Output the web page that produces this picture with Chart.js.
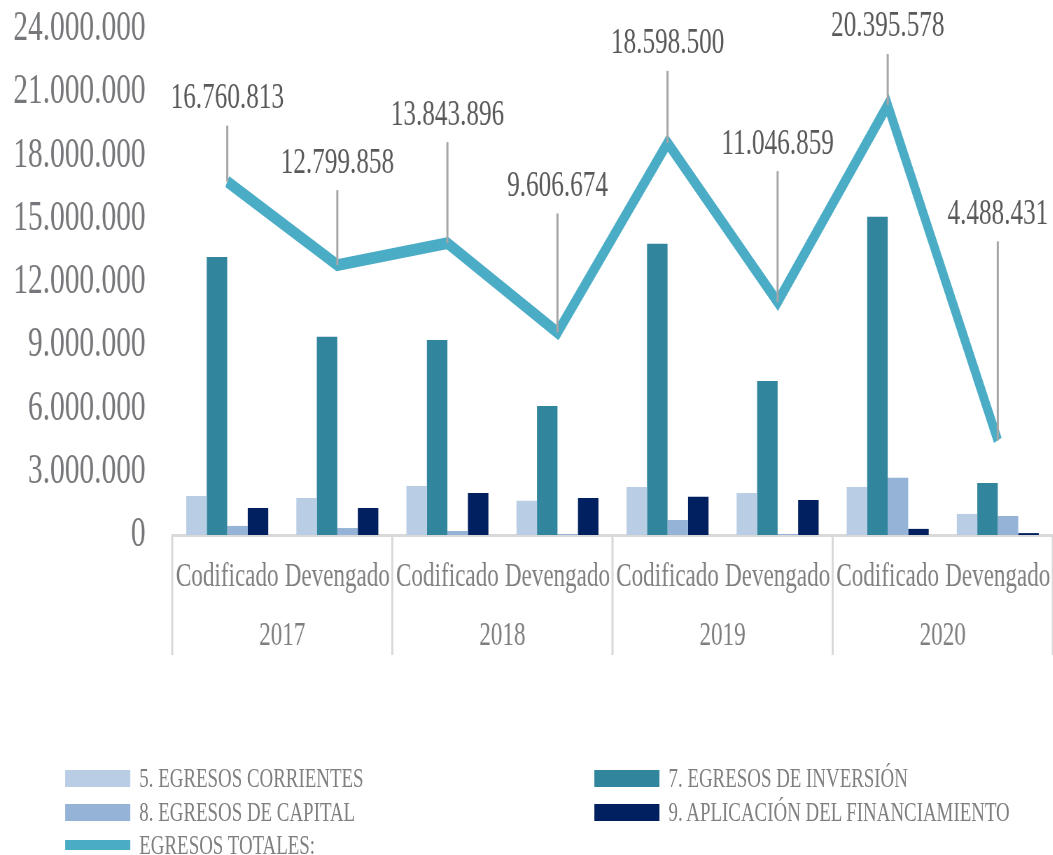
<!DOCTYPE html>
<html>
<head>
<meta charset="utf-8">
<script src="https://cdn.jsdelivr.net/npm/chart.js@4/dist/chart.umd.min.js"></script>
<style>
  html, body { margin: 0; padding: 0; background: #fff; overflow: hidden; }
  #wrap { position: relative; width: 1504px; height: 855px; transform: scaleX(0.7); transform-origin: 0 0; }
  #c { display: block; }
  #legend { position: absolute; left: 0; top: 0; width: 1504px; height: 855px; font-family: "Liberation Serif", serif; font-size: 27px; color: #7f7f7f; }
  .item { position: absolute; display: flex; align-items: center; white-space: nowrap; }
  .sw { display: inline-block; width: 93px; margin-right: 13px; }
</style>
</head>
<body>
<div id="wrap">
  <canvas id="c" width="1504" height="660"></canvas>
  <div id="legend"></div>
</div>
<script>
// ---- data ----
const categories = ['Codificado', 'Devengado', 'Codificado', 'Devengado', 'Codificado', 'Devengado', 'Codificado', 'Devengado'];
const years = ['2017', '2018', '2019', '2020'];
const seriesNames = ['5. EGRESOS CORRIENTES', '7. EGRESOS DE INVERSIÓN', '8. EGRESOS DE CAPITAL', '9. APLICACIÓN DEL FINANCIAMIENTO', 'EGRESOS TOTALES:'];
const corrientes = [1850000, 1760000, 2330000, 1620000, 2280000, 1990000, 2280000, 1000000];
const inversion = [13190000, 9400000, 9250000, 6120000, 13810000, 7310000, 15090000, 2470000];
const capital = [430000, 330000, 190000, 50000, 710000, 50000, 2710000, 900000];
const financiamiento = [1280000, 1280000, 1990000, 1760000, 1810000, 1660000, 290000, 90000];
const totales = [16760813, 12799858, 13843896, 9606674, 18598500, 11046859, 20395578, 4488431];
const yTickValues = [0, 3000000, 6000000, 9000000, 12000000, 15000000, 18000000, 21000000, 24000000];

// ---- label placement (style config) ----
const labelRisePx = [83, 102, 128, 146, 99, 158, 78, 226];

const FONT = '"Liberation Serif", "Times New Roman", serif';
function fmt(n) { return String(Math.round(n)).replace(/\B(?=(\d{3})+(?!\d))/g, '.'); }

const separators = {
  id: 'separators',
  afterDraw(chart) {
    const x = chart.scales.x, x2 = chart.scales.x2;
    const step = x.getPixelForValue(1) - x.getPixelForValue(0);
    const ctx = chart.ctx;
    ctx.save();
    ctx.strokeStyle = '#d9d9d9';
    ctx.lineWidth = 3;
    for (let i = 0; i <= years.length; i++) {
      const px = x.getPixelForValue(0) - step / 2 + i * 2 * step;
      ctx.beginPath();
      ctx.moveTo(px, x.top);
      ctx.lineTo(px, x2.bottom);
      ctx.stroke();
    }
    ctx.restore();
  }
};

const totalLabels = {
  id: 'totalLabels',
  afterDatasetsDraw(chart) {
    const meta = chart.getDatasetMeta(0);
    const ctx = chart.ctx;
    ctx.save();
    meta.data.forEach((pt, i) => {
      const ly = pt.y - labelRisePx[i];
      ctx.strokeStyle = '#a6a6a6';
      ctx.lineWidth = 3;
      ctx.beginPath();
      ctx.moveTo(pt.x, ly + 27);
      ctx.lineTo(pt.x, pt.y);
      ctx.stroke();
      ctx.fillStyle = '#595959';
      ctx.font = '36px ' + FONT;
      ctx.textAlign = 'center';
      ctx.textBaseline = 'middle';
      ctx.fillText(fmt(totales[i]), pt.x, ly);
    });
    ctx.restore();
  }
};

const colors = ['#b9cde5', '#31859c', '#95b3d7', '#002060', '#4bacc6'];

const chart = new Chart(document.getElementById('c'), {
  data: {
    labels: categories,
    datasets: [
      { type: 'line', label: seriesNames[4], data: totales, borderColor: colors[4], backgroundColor: colors[4], borderWidth: 12, pointRadius: 0, tension: 0, fill: false, order: 0, borderJoinStyle: 'miter' },
    ].concat([corrientes, inversion, capital, financiamiento].map((d, i) => ({
      type: 'bar', label: seriesNames[i], data: d, backgroundColor: colors[i], borderWidth: 0,
      categoryPercentage: 0.745, barPercentage: 1.0, order: 1
    })))
  },
  options: {
    responsive: false,
    animation: false,
    devicePixelRatio: 1,
    layout: { padding: { top: 29, left: 0, right: 0, bottom: 5 } },
    plugins: { legend: { display: false }, tooltip: { enabled: false } },
    scales: {
      y: {
        min: 0, max: 24000000,
        afterBuildTicks: (s) => { s.ticks = yTickValues.map(v => ({ value: v })); },
        afterFit: (s) => { s.width = 246; s.paddingTop = 0; s.paddingBottom = 0; },
        grid: { display: false, drawTicks: false },
        border: { display: false },
        ticks: { padding: 38, color: '#76777a', font: { family: FONT, size: 42 }, callback: (v) => fmt(v) }
      },
      x: {
        type: 'category',
        position: 'bottom',
        offset: true,
        afterFit: (s) => { s.height = 58; s.paddingLeft = 0; s.paddingRight = 0; },
        grid: { display: false, drawTicks: false },
        border: { display: true, color: '#d9d9d9', width: 3 },
        ticks: { padding: 23, color: '#7f7f7f', autoSkip: false, maxRotation: 0, font: { family: FONT, size: 33 } }
      },
      x2: {
        type: 'category',
        position: 'bottom',
        labels: years,
        offset: true,
        afterFit: (s) => { s.height = 62; s.paddingLeft = 0; s.paddingRight = 0; },
        grid: { display: false, drawTicks: false },
        border: { display: false },
        ticks: { padding: 24, color: '#7f7f7f', autoSkip: false, maxRotation: 0, font: { family: FONT, size: 33 } }
      }
    }
  },
  plugins: [separators, totalLabels]
});

// ---- legend (HTML, built from datasets) ----
const legendSpots = [
  { idx: 1, left: 93, cy: 778 }, { idx: 2, left: 849, cy: 778 },
  { idx: 3, left: 93, cy: 812 }, { idx: 4, left: 849, cy: 812 },
  { idx: 0, left: 93, cy: 845 }
];
const legend = document.getElementById('legend');
legendSpots.forEach(s => {
  const ds = chart.data.datasets[s.idx];
  const item = document.createElement('div');
  item.className = 'item';
  item.style.left = s.left + 'px';
  item.style.top = (s.cy - 20) + 'px';
  item.style.height = '40px';
  const sw = document.createElement('span');
  sw.className = 'sw';
  sw.style.height = (ds.type === 'line' ? 10 : 17) + 'px';
  sw.style.background = ds.type === 'line' ? ds.borderColor : ds.backgroundColor;
  const tx = document.createElement('span');
  tx.textContent = ds.label;
  item.appendChild(sw);
  item.appendChild(tx);
  legend.appendChild(item);
});
</script>
</body>
</html>
